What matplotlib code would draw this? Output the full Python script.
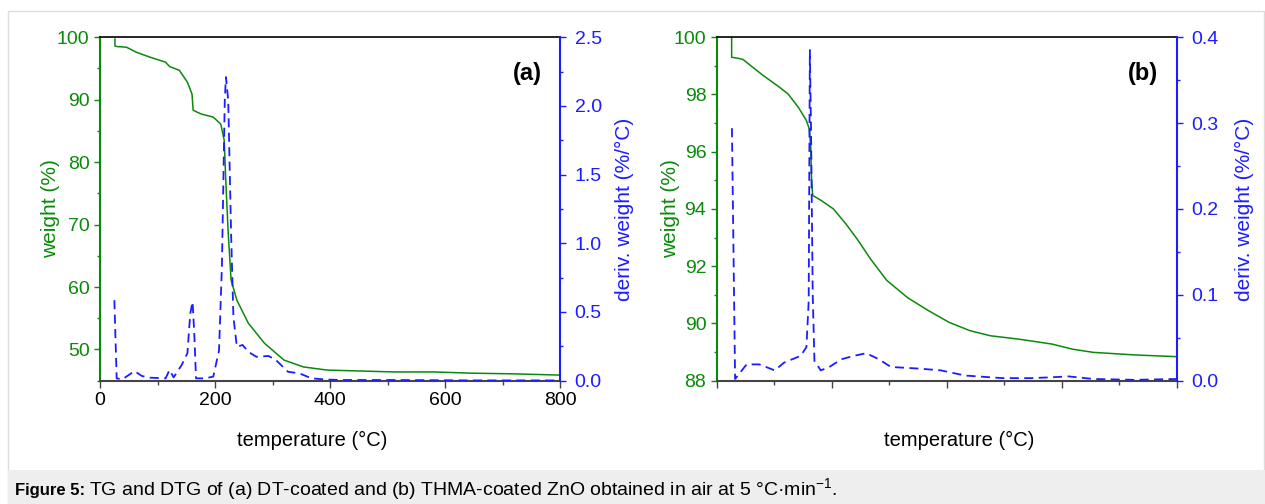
import matplotlib
matplotlib.use('Agg')
import matplotlib.pyplot as plt
from matplotlib.ticker import MultipleLocator, NullFormatter
from matplotlib.patches import Rectangle

plt.rcParams['font.family'] = ['Liberation Sans', 'DejaVu Sans']

GREEN = '#0a8a0a'
BLUE = '#1c1cff'

# (a) DT-coated ZnO: TG curve
a_temp_tg = [26, 26, 30, 46, 63, 87, 114, 121, 138, 152, 160, 162, 176, 197, 210, 216,
             219, 223, 228, 238, 258, 286, 320, 354, 395, 512, 580, 649, 718, 800]
a_weight = [99.7, 98.6, 98.5, 98.4, 97.6, 96.8, 96.0, 95.3, 94.7, 92.8, 90.9, 88.3, 87.7,
            87.2, 86.1, 83.5, 76.5, 68.6, 61.1, 57.9, 54.2, 51.0, 48.3, 47.2, 46.7, 46.4,
            46.4, 46.2, 46.1, 45.9]
# (a) DTG curve
a_temp_dtg = [25, 29, 39, 60, 73, 87, 114, 121, 128, 142, 152, 157, 161, 164, 167, 183,
              197, 207, 212, 217, 219, 223, 228, 232, 238, 248, 258, 272, 293, 306, 327,
              347, 368, 389, 416, 512, 649, 800]
a_deriv = [0.586, 0.017, 0.01, 0.07, 0.034, 0.022, 0.017, 0.078, 0.024, 0.114, 0.2, 0.49,
           0.574, 0.34, 0.017, 0.017, 0.03, 0.22, 0.83, 2.04, 2.21, 2.04, 1.07, 0.465,
           0.247, 0.26, 0.21, 0.174, 0.18, 0.15, 0.065, 0.053, 0.017, 0.01, 0.005, 0.005,
           0.002, 0.002]

# (b) THMA-coated ZnO: TG curve
b_temp_tg = [26, 26, 38, 46, 59.5, 81, 106, 124, 142, 156, 161, 163.6, 165, 167, 181.5,
             203, 224.6, 246, 267.6, 296, 332, 368, 404, 440, 476, 526, 583, 619, 655,
             727, 800]
b_weight = [100.0, 99.3, 99.26, 99.22, 99.0, 98.66, 98.3, 98.02, 97.55, 97.09, 96.8, 96.15,
            95.0, 94.47, 94.3, 94.0, 93.48, 92.9, 92.25, 91.5, 90.9, 90.45, 90.04, 89.75,
            89.57, 89.45, 89.28, 89.1, 88.99, 88.9, 88.84]
# (b) DTG curve
b_temp_dtg = [26.5, 32, 52, 74, 101, 117, 146, 156, 160, 162, 164, 167, 170, 181, 196,
              217, 239, 260, 282, 303, 354, 390, 432, 497, 547, 583, 612, 655, 727, 800]
b_deriv = [0.294, 0.002, 0.019, 0.019, 0.012, 0.021, 0.029, 0.039, 0.093, 0.385, 0.295,
           0.1, 0.023, 0.012, 0.016, 0.025, 0.029, 0.032, 0.025, 0.016, 0.014, 0.012,
           0.006, 0.003, 0.003, 0.004, 0.005, 0.002, 0.001, 0.002]

W, H = 1265, 504
fig = plt.figure(figsize=(W / 100, H / 100), dpi=100)

# frame and caption box
fig.patches.append(Rectangle((8 / W, 0), (W - 9) / W, (H - 11) / H, transform=fig.transFigure,
                             facecolor='none', edgecolor='#dddddd', lw=1))
fig.patches.append(Rectangle((8 / W, 0), (W - 8) / W, 34 / H, transform=fig.transFigure,
                             facecolor='#eeeeee', edgecolor='none'))
cap1 = fig.text(15 / W, 14 / H, 'Figure 5:', fontsize=12, fontweight='bold', va='center')
bb = cap1.get_window_extent(renderer=fig.canvas.get_renderer())
fig.text((bb.x1 + 4) / W, 14 / H,
         r'TG and DTG of (a) DT-coated and (b) THMA-coated ZnO obtained in air at 5 °C·min$^{\mathregular{-1}}$.',
         fontsize=14, va='center')


def panel(left, tt, wt, td, dv, ylim, yminor, ymajor, dlim, dminor, dmajor, tag, show_x, xlab_x, ylab_x, dlab_x):
    ax = fig.add_axes([left / W, 123.3 / H, 460 / W, 343.5 / H])
    ax.plot(tt, wt, color=GREEN, lw=1.1)
    ax.set_xlim(0, 800)
    ax.set_ylim(*ylim)
    ax.xaxis.set_major_locator(MultipleLocator(200))
    ax.xaxis.set_minor_locator(MultipleLocator(100))
    ax.yaxis.set_major_locator(MultipleLocator(ymajor))
    ax.yaxis.set_minor_locator(MultipleLocator(yminor))
    if not show_x:
        ax.xaxis.set_major_formatter(NullFormatter())
    ax.tick_params(axis='x', which='major', length=5, width=1, labelsize=14, pad=3, color='#444444')
    ax.tick_params(axis='x', which='minor', length=3, width=1, color='#444444')
    ax.tick_params(axis='y', which='major', length=4.5, width=1, labelsize=14, colors=GREEN, pad=3)
    ax.tick_params(axis='y', which='minor', length=2.5, width=1, colors=GREEN)
    ax.spines['left'].set_color(GREEN)
    ax.spines['left'].set_linewidth(1.5)
    ax.spines['right'].set_visible(False)
    ax.spines['top'].set_linewidth(1.2)
    ax.spines['bottom'].set_color('#444444')
    ax.spines['bottom'].set_linewidth(1.5)
    ax.set_xlabel('temperature (°C)', fontsize=14.5)
    ax.xaxis.set_label_coords(xlab_x, -0.145)
    ax.set_ylabel('weight (%)', fontsize=15, color=GREEN)
    ax.yaxis.set_label_coords(ylab_x, 0.5)
    ax.text(0.96, 0.895, tag, transform=ax.transAxes, ha='right', va='center',
            fontsize=17, fontweight='bold')

    ax2 = ax.twinx()
    ax2.plot(td, dv, color=BLUE, lw=1.3, dashes=(5, 3))
    ax2.set_ylim(*dlim)
    ax2.yaxis.set_major_locator(MultipleLocator(dmajor))
    ax2.yaxis.set_minor_locator(MultipleLocator(dminor))
    ax2.yaxis.set_major_formatter(plt.FuncFormatter(lambda v, p: f'{v:.1f}'))
    ax2.tick_params(axis='y', which='major', length=4.5, width=1, labelsize=14, colors=BLUE, pad=6)
    ax2.tick_params(axis='y', which='minor', length=2.5, width=1, colors=BLUE)
    for s in ['left', 'top', 'bottom']:
        ax2.spines[s].set_visible(False)
    ax2.spines['right'].set_color(BLUE)
    ax2.spines['right'].set_linewidth(1.5)
    ax2.set_ylabel('deriv. weight (%/°C)', fontsize=15, color=BLUE)
    ax2.yaxis.set_label_coords(dlab_x, 0.5)
    return ax, ax2


panel(100, a_temp_tg, a_weight, a_temp_dtg, a_deriv, (45, 100), 5, 10, (0, 2.5), 0.25, 0.5,
      '(a)', True, 0.462, -0.087, 1.12)
panel(716.7, b_temp_tg, b_weight, b_temp_dtg, b_deriv, (88, 100), 1, 2, (0, 0.4), 0.05, 0.1,
      '(b)', False, 0.527, -0.08, 1.127)

fig.savefig('out.png', dpi=100)
